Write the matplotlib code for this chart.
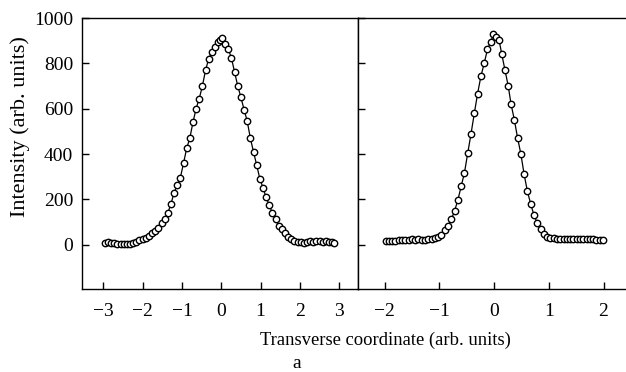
import matplotlib
matplotlib.use('Agg')
import matplotlib.pyplot as plt

plt.rcParams['font.family'] = ['Liberation Serif', 'DejaVu Serif']
plt.rcParams['font.size'] = 14

# left panel: measured profile
left_x = [-2.96, -2.88, -2.80, -2.72, -2.64, -2.56, -2.48, -2.40, -2.32, -2.24,
          -2.16, -2.08, -2.00, -1.92, -1.84, -1.76, -1.68, -1.60, -1.52, -1.44,
          -1.36, -1.28, -1.20, -1.12, -1.04, -0.96, -0.88, -0.80, -0.72, -0.64,
          -0.56, -0.48, -0.40, -0.32, -0.24, -0.16, -0.08, -0.02, 0.03, 0.10,
          0.18, 0.26, 0.34, 0.42, 0.50, 0.58, 0.66, 0.74, 0.82, 0.90,
          0.98, 1.06, 1.14, 1.22, 1.30, 1.38, 1.46, 1.54, 1.62, 1.70,
          1.78, 1.86, 1.94, 2.02, 2.10, 2.18, 2.26, 2.34, 2.42, 2.50,
          2.58, 2.66, 2.74, 2.82, 2.86]
left_y = [8, 12, 10, 6, 3, 2, 4, 3, 5, 6,
          14, 20, 25, 32, 40, 50, 60, 76, 95, 115,
          140, 180, 230, 262, 296, 360, 425, 470, 540, 600,
          645, 700, 770, 820, 850, 872, 893, 905, 912, 884,
          862, 823, 760, 700, 650, 596, 545, 470, 410, 352,
          292, 252, 210, 175, 140, 115, 82, 68, 50, 36,
          26, 18, 14, 13, 9, 14, 15, 14, 15, 15,
          14, 15, 14, 12, 10]

# right panel: measured profile
right_x = [-1.98, -1.92, -1.86, -1.80, -1.74, -1.68, -1.62, -1.56, -1.50, -1.44,
           -1.38, -1.32, -1.26, -1.20, -1.14, -1.08, -1.02, -0.96, -0.90, -0.84,
           -0.78, -0.72, -0.66, -0.60, -0.54, -0.48, -0.42, -0.36, -0.30, -0.24,
           -0.18, -0.12, -0.06, -0.01, 0.04, 0.09, 0.14, 0.20, 0.26, 0.31,
           0.37, 0.43, 0.49, 0.55, 0.61, 0.67, 0.73, 0.79, 0.85, 0.91,
           0.97, 1.03, 1.09, 1.15, 1.21, 1.27, 1.33, 1.39, 1.45, 1.51,
           1.57, 1.63, 1.69, 1.75, 1.81, 1.87, 1.93, 1.99]
right_y = [17, 17, 18, 18, 19, 22, 23, 23, 24, 23,
           24, 23, 22, 25, 27, 30, 36, 45, 63, 85,
           112, 150, 198, 258, 318, 405, 490, 580, 667, 743,
           800, 862, 895, 928, 918, 905, 842, 770, 699, 621,
           552, 471, 400, 310, 235, 180, 130, 96, 68, 48,
           36, 31, 28, 26, 25, 25, 26, 25, 25, 25,
           26, 26, 25, 24, 25, 22, 22, 22]

left_ticks = [-3, -2, -1, 0, 1, 2, 3]
right_ticks = [-2, -1, 0, 1, 2]
y_ticks = [0, 200, 400, 600, 800, 1000]

fig = plt.figure(figsize=(6.26, 3.72), dpi=100)
ax1 = fig.add_axes([0.1305, 0.2231, 0.4409, 0.7285])
ax2 = fig.add_axes([0.5714, 0.2231, 0.4286, 0.7285])

for ax, xs, ys in [(ax1, left_x, left_y), (ax2, right_x, right_y)]:
    ax.plot(xs, ys, '-', color='black', lw=0.9)
    ax.plot(xs, ys, 'o', ms=4.6, mfc='white', mec='black', mew=1.0)
    ax.set_ylim(-195, 1000)
    ax.set_yticks(y_ticks)
    ax.tick_params(direction='in', length=5, width=1.0, labelsize=14)
    ax.tick_params(axis='x', pad=10)
    for s in ax.spines.values():
        s.set_linewidth(1.0)

ax1.set_xlim(-3.55, 3.47)
ax1.set_xticks(left_ticks)
ax1.tick_params(axis='y', pad=6)

ax2.set_xlim(-2.49, 2.41)
ax2.set_xticks(right_ticks)
ax2.tick_params(axis='y', labelleft=False)
ax2.spines['right'].set_visible(False)

fig.text(20 / 626, 1 - 127 / 372, 'Intensity (arb. units)', rotation=90,
         ha='center', va='center', fontsize=16)
fig.text(385.5 / 626, 1 - 340 / 372, 'Transverse coordinate (arb. units)',
         ha='center', va='center', fontsize=13.4)
fig.text(297 / 626, 1 - 364 / 372, 'a', ha='center', va='center', fontsize=14)

fig.savefig('out.png', dpi=100)
